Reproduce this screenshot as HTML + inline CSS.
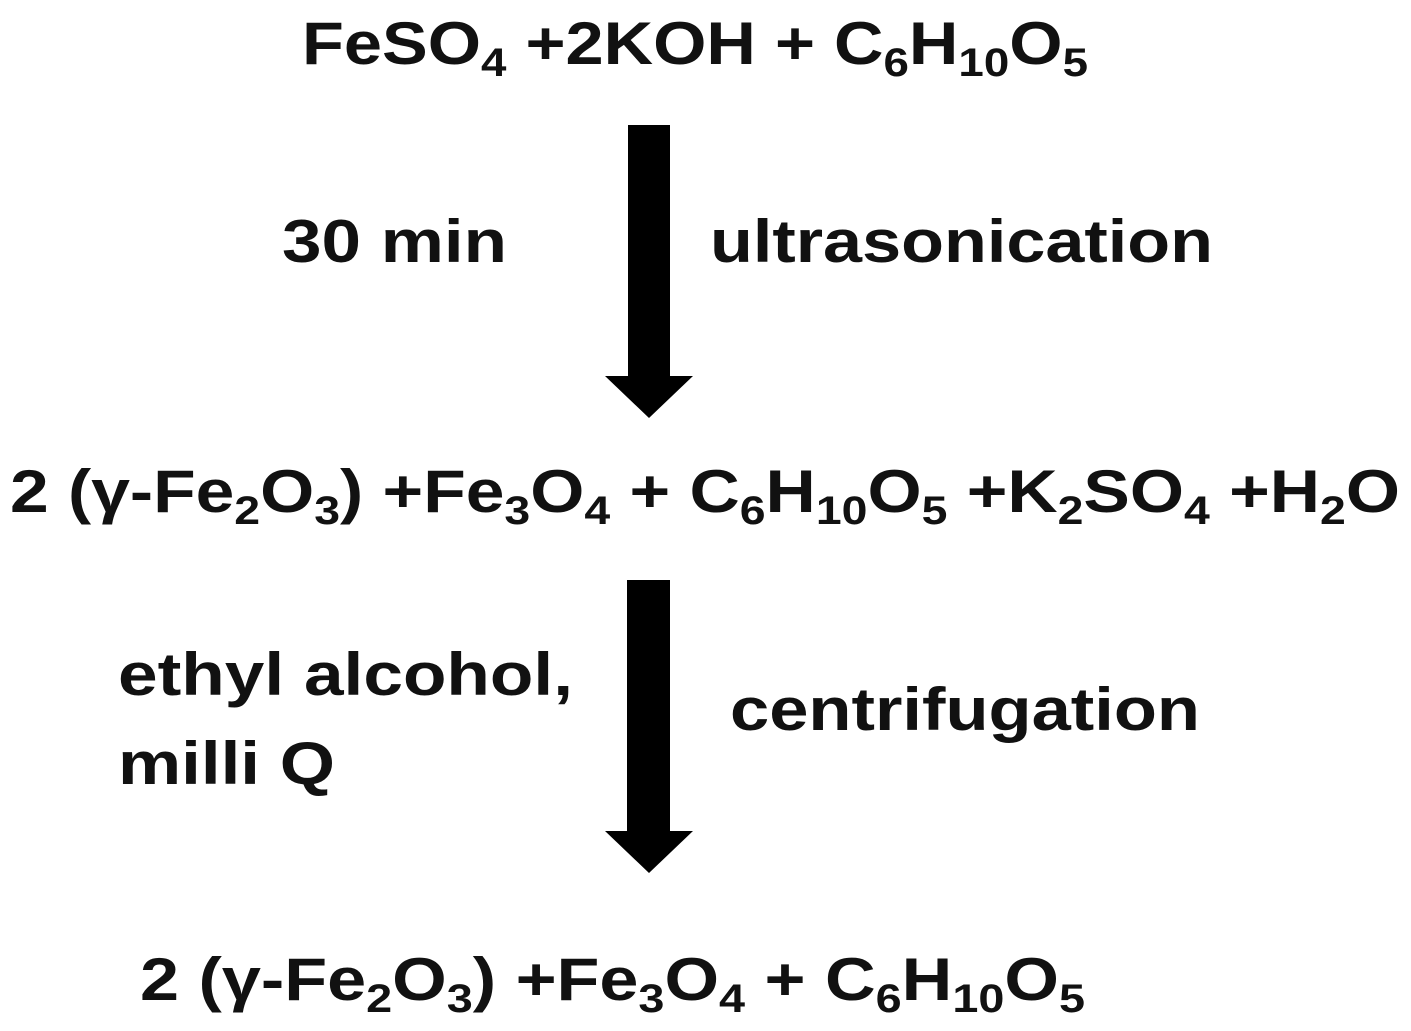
<!DOCTYPE html>
<html><head><meta charset="utf-8"><style>
html,body{margin:0;padding:0;background:#fff;}
svg{display:block;}
text{font-family:"Liberation Sans",sans-serif;font-weight:bold;font-size:60px;fill:#111;}
.s{font-size:40px;}
</style></head><body>
<svg width="1411" height="1031" viewBox="0 0 1411 1031">
<text x="302" y="64" textLength="786" lengthAdjust="spacingAndGlyphs">FeSO<tspan class="s" dy="12">4</tspan><tspan dy="-12"> +2KOH + C</tspan><tspan class="s" dy="12">6</tspan><tspan dy="-12">H</tspan><tspan class="s" dy="12">10</tspan><tspan dy="-12">O</tspan><tspan class="s" dy="12">5</tspan></text>
<text x="282" y="262" textLength="225" lengthAdjust="spacingAndGlyphs">30 min</text>
<text x="710" y="262" textLength="503" lengthAdjust="spacingAndGlyphs">ultrasonication</text>
<polygon points="628,125 670,125 670,376 693,376 649,418 605,376 628,376" fill="#000"/>
<text x="10" y="512" textLength="1390" lengthAdjust="spacingAndGlyphs">2 (γ-Fe<tspan class="s" dy="12">2</tspan><tspan dy="-12">O</tspan><tspan class="s" dy="12">3</tspan><tspan dy="-12">) +Fe</tspan><tspan class="s" dy="12">3</tspan><tspan dy="-12">O</tspan><tspan class="s" dy="12">4</tspan><tspan dy="-12"> + C</tspan><tspan class="s" dy="12">6</tspan><tspan dy="-12">H</tspan><tspan class="s" dy="12">10</tspan><tspan dy="-12">O</tspan><tspan class="s" dy="12">5</tspan><tspan dy="-12"> +K</tspan><tspan class="s" dy="12">2</tspan><tspan dy="-12">SO</tspan><tspan class="s" dy="12">4</tspan><tspan dy="-12"> +H</tspan><tspan class="s" dy="12">2</tspan><tspan dy="-12">O</tspan></text>
<polygon points="627,580 670,580 670,831 693,831 649,873 605,831 627,831" fill="#000"/>
<text x="118" y="695" textLength="455" lengthAdjust="spacingAndGlyphs">ethyl alcohol,</text>
<text x="118" y="784" textLength="217" lengthAdjust="spacingAndGlyphs">milli Q</text>
<text x="730" y="730" textLength="470" lengthAdjust="spacingAndGlyphs">centrifugation</text>
<text x="140" y="1000" textLength="945" lengthAdjust="spacingAndGlyphs">2 (γ-Fe<tspan class="s" dy="12">2</tspan><tspan dy="-12">O</tspan><tspan class="s" dy="12">3</tspan><tspan dy="-12">) +Fe</tspan><tspan class="s" dy="12">3</tspan><tspan dy="-12">O</tspan><tspan class="s" dy="12">4</tspan><tspan dy="-12"> + C</tspan><tspan class="s" dy="12">6</tspan><tspan dy="-12">H</tspan><tspan class="s" dy="12">10</tspan><tspan dy="-12">O</tspan><tspan class="s" dy="12">5</tspan></text>
</svg>
</body></html>
